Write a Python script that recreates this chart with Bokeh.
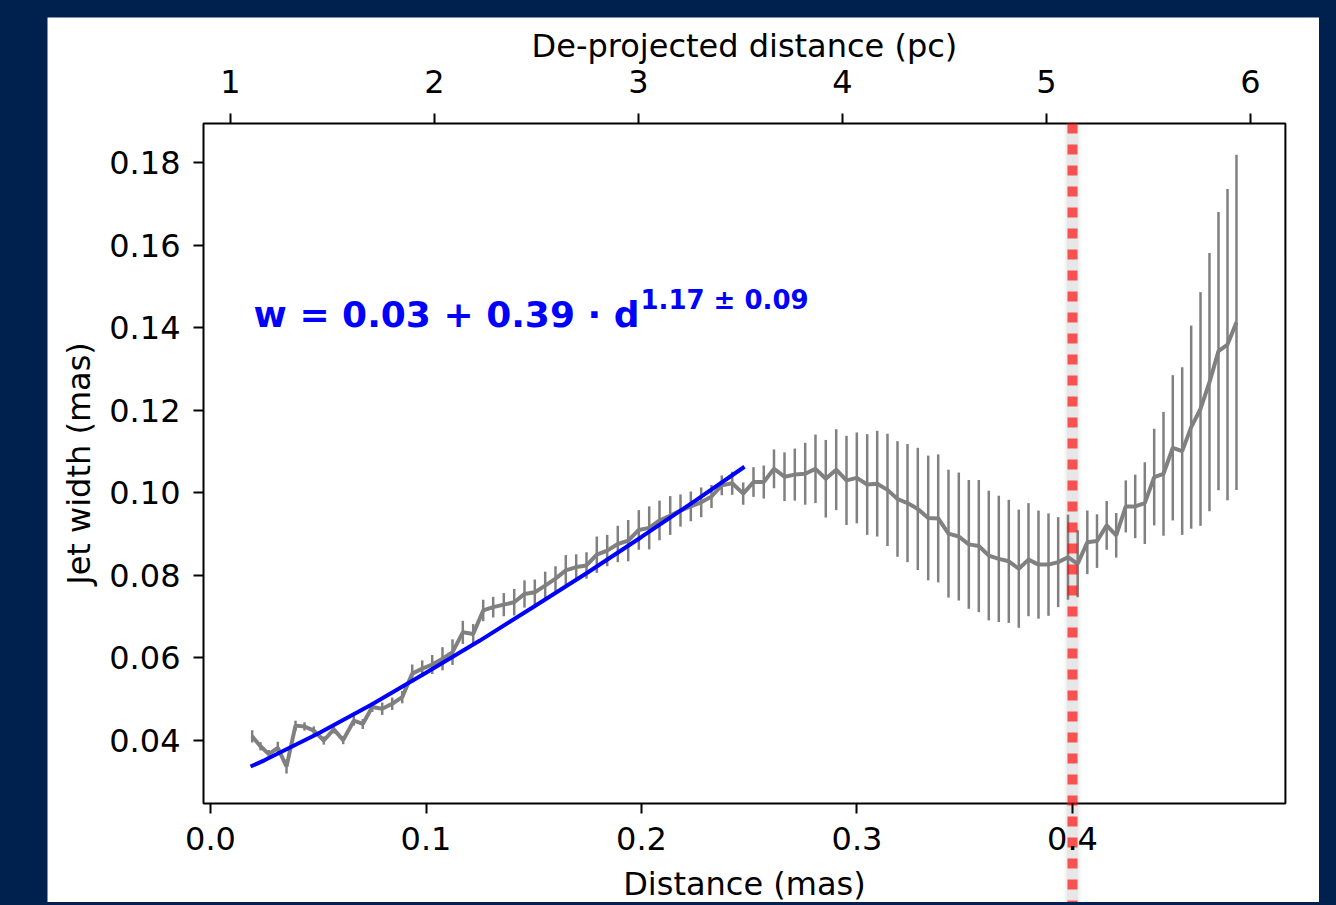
import math
from bokeh.plotting import figure
from bokeh.models import (ColumnDataSource, Range1d, LinearAxis, FixedTicker, Label, BoxAnnotation,
                          CustomJSTickFormatter, GlobalInlineStyleSheet)
from bokeh.embed import file_html
from bokeh.resources import INLINE

# ---------------- data ----------------
distance_mas = [
    0.01935, 0.02320, 0.02705, 0.03123, 0.03527, 0.03944, 0.04362, 0.04794, 0.05258, 0.05722,
    0.06158, 0.06650, 0.07067, 0.07503, 0.07968, 0.08432, 0.08896, 0.09360, 0.09824, 0.10288,
    0.10766, 0.11230, 0.11708, 0.12190, 0.12654, 0.13118, 0.13610, 0.14093, 0.14571, 0.15049,
    0.15531, 0.16009, 0.16487, 0.16970, 0.17448, 0.17926, 0.18408, 0.18900, 0.19383, 0.19875,
    0.20357, 0.20835, 0.21332, 0.21810, 0.22288, 0.22770, 0.23248, 0.23726, 0.24209, 0.24719,
    0.25197, 0.25675, 0.26148, 0.26636, 0.27114, 0.27596, 0.28074, 0.28552, 0.29035, 0.29513,
    0.29991, 0.30473, 0.30937, 0.31415, 0.31879, 0.32343, 0.32821, 0.33304, 0.33768, 0.34246,
    0.34724, 0.35188, 0.35652, 0.36116, 0.36580, 0.37044, 0.37508, 0.37958, 0.38422, 0.38886,
    0.39336, 0.39791, 0.40241, 0.40687, 0.41137, 0.41587, 0.42028, 0.42473, 0.42910, 0.43355,
    0.43791, 0.44223, 0.44654, 0.45090, 0.45508, 0.45940, 0.46357, 0.46775, 0.47193, 0.47610,
]
jet_width = [
    0.0410, 0.0386, 0.0367, 0.0382, 0.0337, 0.0436, 0.0434, 0.0424, 0.0400, 0.0427,
    0.0401, 0.0448, 0.0440, 0.0481, 0.0477, 0.0489, 0.0505, 0.0562, 0.0574, 0.0584,
    0.0598, 0.0614, 0.0662, 0.0658, 0.0715, 0.0723, 0.0729, 0.0735, 0.0755, 0.0759,
    0.0775, 0.0792, 0.0812, 0.0820, 0.0824, 0.0850, 0.0860, 0.0876, 0.0884, 0.0910,
    0.0915, 0.0933, 0.0945, 0.0957, 0.0967, 0.0977, 0.0991, 0.1018, 0.1023, 0.0998,
    0.1026, 0.1026, 0.1058, 0.1039, 0.1044, 0.1046, 0.1058, 0.1034, 0.1056, 0.1030,
    0.1036, 0.1020, 0.1022, 0.1007, 0.0985, 0.0975, 0.0961, 0.0939, 0.0938, 0.0901,
    0.0894, 0.0875, 0.0871, 0.0848, 0.0840, 0.0834, 0.0816, 0.0838, 0.0826, 0.0826,
    0.0832, 0.0844, 0.0828, 0.0880, 0.0883, 0.0921, 0.0897, 0.0967, 0.0967, 0.0975,
    0.1038, 0.1046, 0.1109, 0.1101, 0.1159, 0.1203, 0.1268, 0.1343, 0.1359, 0.1413,
]
width_err = [
    0.0015, 0.0010, 0.0010, 0.0015, 0.0017, 0.0012, 0.0010, 0.0010, 0.0010, 0.0010,
    0.0010, 0.0012, 0.0012, 0.0012, 0.0015, 0.0015, 0.0015, 0.0022, 0.0020, 0.0023,
    0.0028, 0.0031, 0.0028, 0.0024, 0.0026, 0.0025, 0.0028, 0.0032, 0.0033, 0.0031,
    0.0034, 0.0030, 0.0037, 0.0031, 0.0032, 0.0044, 0.0038, 0.0044, 0.0050, 0.0048,
    0.0052, 0.0048, 0.0047, 0.0039, 0.0036, 0.0036, 0.0028, 0.0024, 0.0028, 0.0027,
    0.0036, 0.0040, 0.0047, 0.0059, 0.0063, 0.0075, 0.0083, 0.0094, 0.0098, 0.0108,
    0.0110, 0.0122, 0.0128, 0.0136, 0.0140, 0.0143, 0.0148, 0.0151, 0.0155, 0.0155,
    0.0155, 0.0156, 0.0160, 0.0157, 0.0153, 0.0149, 0.0143, 0.0137, 0.0131, 0.0124,
    0.0109, 0.0103, 0.0081, 0.0077, 0.0065, 0.0059, 0.0054, 0.0063, 0.0077, 0.0099,
    0.0117, 0.0150, 0.0176, 0.0203, 0.0246, 0.0283, 0.0313, 0.0337, 0.0377, 0.0406,
]
fit_distance = [0.0186, 0.025, 0.05, 0.075, 0.1, 0.125, 0.15, 0.175, 0.2, 0.225, 0.2478]
fit_width = [0.0337, 0.0352, 0.0417, 0.0488, 0.0564, 0.0642, 0.0724, 0.0807, 0.0893, 0.0981, 0.1063]

x_ticks = [0.0, 0.1, 0.2, 0.3, 0.4]
y_ticks = [0.04, 0.06, 0.08, 0.10, 0.12, 0.14, 0.16, 0.18]
pc_ticks = [1, 2, 3, 4, 5, 6]
break_distance = 0.4

x_title = "Distance (mas)"
y_title = "Jet width (mas)"
top_title = "De-projected distance (pc)"
formula_main = "w = 0.03 + 0.39 · d"
formula_exp = "1.17 ± 0.09"

# ---------------- styling / layout ----------------
NAVY = "#00204e"
FONT = "DejaVu Sans"
TICK_SIZE = "32px"
LABEL_SIZE = "32px"

# axes box (data limits of the panel)
X_AX = (-0.00325, 0.4988)
Y_AX = (0.02474, 0.18945)
X_MID = (X_AX[0] + X_AX[1]) / 2
Y_MID = (Y_AX[0] + Y_AX[1]) / 2
# whole canvas expressed in data units (the frame covers the full figure)
X_CANVAS = (-0.07564, 0.51462)
Y_CANVAS = (0.00076, 0.21512)
PC_CANVAS = (0.10294, 6.33824)
# title positions (data units)
X_TITLE_Y = 0.00525
TOP_TITLE_Y = 0.2083
Y_TITLE_X = -0.0612

page_css = GlobalInlineStyleSheet(css=(
    "html, body { background-color: %s; }"
    "body { margin: 0; padding: 17px 0 0 47px; }" % NAVY
))

p = figure(width=1272, height=885, output_backend="svg", toolbar_location=None,
           x_range=Range1d(*X_CANVAS), y_range=Range1d(*Y_CANVAS),
           x_axis_location=None, y_axis_location=None,
           min_border=0, min_border_left=0, min_border_right=0,
           min_border_top=0, min_border_bottom=0,
           background_fill_color="white", border_fill_color="white",
           stylesheets=[page_css])
p.grid.visible = False
p.outline_line_color = None
p.extra_x_ranges = {"pc": Range1d(*PC_CANVAS)}

bottom_axis = LinearAxis(fixed_location=Y_AX[0],
                         ticker=FixedTicker(ticks=x_ticks),
                         formatter=CustomJSTickFormatter(code="return tick.toFixed(1)"))
top_axis = LinearAxis(fixed_location=Y_AX[1], x_range_name="pc",
                      ticker=FixedTicker(ticks=pc_ticks),
                      formatter=CustomJSTickFormatter(code="return tick.toFixed(0)"))
left_axis = LinearAxis(fixed_location=X_AX[0],
                       ticker=FixedTicker(ticks=y_ticks),
                       formatter=CustomJSTickFormatter(code="return tick.toFixed(2)"))
p.add_layout(bottom_axis, "below")
p.add_layout(top_axis, "above")
p.add_layout(left_axis, "left")

for ax in (bottom_axis, top_axis, left_axis):
    ax.axis_line_color = None
    ax.major_tick_line_color = "black"
    ax.major_tick_line_width = 2
    ax.major_tick_out = 10
    ax.major_tick_in = 0
    ax.minor_tick_line_color = None
    ax.major_label_text_font = FONT
    ax.major_label_text_font_size = TICK_SIZE
    ax.major_label_text_color = "black"

bottom_axis.major_label_standoff = 14
top_axis.major_label_standoff = 20
left_axis.major_label_standoff = 13

# axis titles
p.add_layout(Label(x=X_MID, y=X_TITLE_Y, text=x_title, text_font=FONT, text_font_size=LABEL_SIZE,
                   text_color="black", text_align="center", text_baseline="alphabetic"))
p.add_layout(Label(x=X_MID, y=TOP_TITLE_Y, text=top_title, text_font=FONT, text_font_size=LABEL_SIZE,
                   text_color="black", text_align="center", text_baseline="alphabetic"))
p.add_layout(Label(x=Y_TITLE_X, y=Y_MID, text=y_title, text_font=FONT, text_font_size=LABEL_SIZE,
                   text_color="black", text_align="center", text_baseline="alphabetic",
                   angle=math.pi / 2))

# axes box
p.add_layout(BoxAnnotation(left=X_AX[0], right=X_AX[1], bottom=Y_AX[0], top=Y_AX[1],
                           fill_color=None, fill_alpha=0, line_color="black", line_alpha=1.0,
                           line_width=2, level="underlay"))

# ---------------- data marks ----------------
src = ColumnDataSource(dict(
    x=distance_mas, y=jet_width,
    lo=[w - e for w, e in zip(jet_width, width_err)],
    hi=[w + e for w, e in zip(jet_width, width_err)],
))
p.segment(x0="x", y0="lo", x1="x", y1="hi", source=src, line_color="gray", line_width=2.5)
p.line(x="x", y="y", source=src, line_color="gray", line_width=4)

p.line(x=fit_distance, y=fit_width, line_color="blue", line_width=4)

# vertical marker with a soft gray halo, running from the top of the box to the page edge
for w, a in [(18, 0.05), (14, 0.07), (11, 0.08)]:
    p.segment(x0=[break_distance], y0=[Y_AX[1]], x1=[break_distance], y1=[Y_CANVAS[0]],
              line_color="gray", line_width=w, line_alpha=a)
p.segment(x0=[break_distance], y0=[Y_AX[1]], x1=[break_distance], y1=[Y_CANVAS[0]],
          line_color="red", line_width=10, line_alpha=0.65, line_dash="10 11")

# formula
p.add_layout(Label(x=0.02, y=0.1432, text=formula_main, text_font=FONT, text_font_style="bold",
                   text_font_size="36px", text_color="blue", text_baseline="alphabetic"))
p.add_layout(Label(x=0.1995, y=0.1468, text=formula_exp, text_font=FONT, text_font_style="bold",
                   text_font_size="26px", text_color="blue", text_baseline="alphabetic"))

open("out.html", "w").write(file_html(p, INLINE))
